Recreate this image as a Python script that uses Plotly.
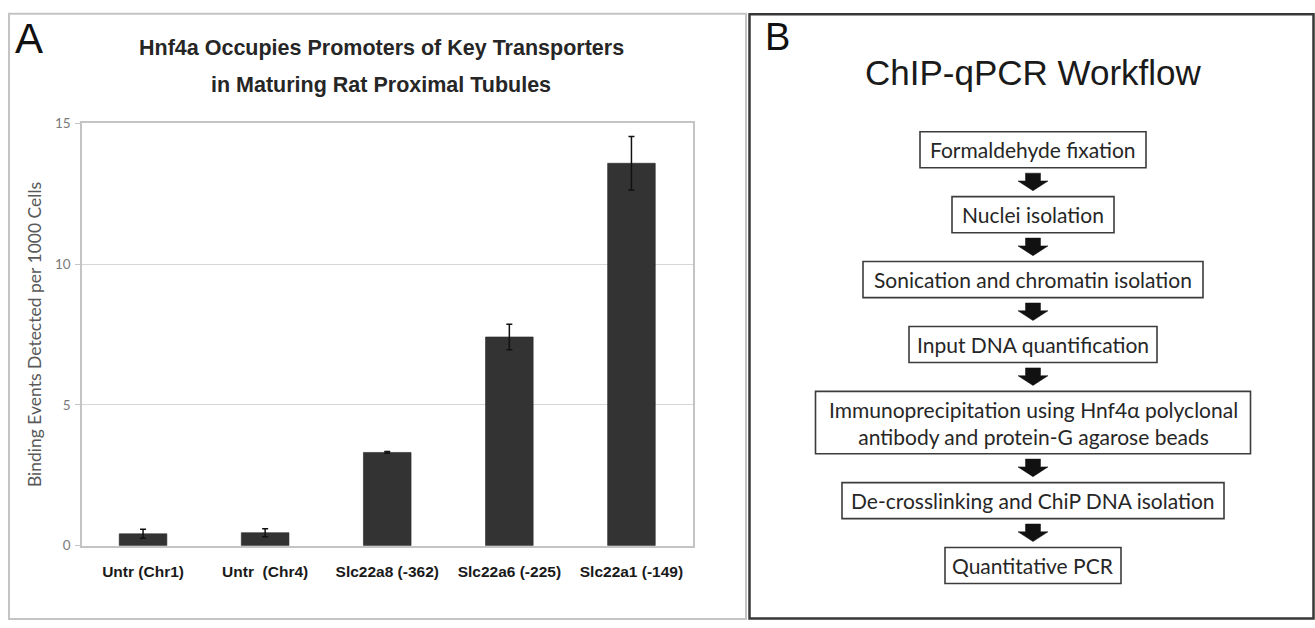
import plotly.graph_objects as go

W, H = 1315, 628

# ---- Panel A data -------------------------------------------------------
categories = [
    "Untr (Chr1)",
    "Untr\u00a0 (Chr4)",
    "Slc22a8 (-362)",
    "Slc22a6 (-225)",
    "Slc22a1 (-149)",
]
binding_events = [0.42, 0.46, 3.31, 7.41, 13.58]
binding_err = [0.16, 0.14, 0.03, 0.45, 0.95]
y_ticks = [0, 5, 10, 15]

chart_title = [
    "Hnf4a Occupies Promoters of Key Transporters",
    "in Maturing Rat Proximal Tubules",
]
y_title = "Binding Events Detected per 1000 Cells"

# ---- Panel B content ----------------------------------------------------
workflow_title = "ChIP-qPCR Workflow"
workflow_steps = [
    "Formaldehyde fixation",
    "Nuclei isolation",
    "Sonication and chromatin isolation",
    "Input DNA quantification",
    "Immunoprecipitation using Hnf4\u03b1 polyclonal<br>antibody and protein-G agarose beads",
    "De-crosslinking and ChiP DNA isolation",
    "Quantitative PCR",
]

# ---- Flowchart geometry (pixels) ---------------------------------------
flow_cx = 1033
box_half_w = [113, 81, 170, 124, 217.5, 191, 88]
box_h = [37, 37, 37, 37, 64, 37, 37]
first_top = 127
box_gap = 29.6

ARIAL = "Liberation Sans"
BODY = "Lato"


def px(x):
    return x / W


def py(y):
    return 1 - y / H


fig = go.Figure(
    go.Bar(
        x=categories,
        y=binding_events,
        width=0.39,
        marker=dict(color="#333333", line=dict(color="#262626", width=0.6)),
        error_y=dict(type="data", array=binding_err, color="#111111",
                     thickness=1.5, width=3),
        hoverinfo="x+y",
    )
)

shapes = []
annotations = []

# panel frames
shapes.append(dict(type="rect", xref="paper", yref="paper",
                   x0=px(9), x1=px(746), y0=py(6), y1=py(627),
                   line=dict(color="#c4c4c4", width=2)))
shapes.append(dict(type="rect", xref="paper", yref="paper",
                   x0=px(749.5), x1=px(1313.5), y0=py(6.5), y1=py(626.5),
                   line=dict(color="#383838", width=2.5)))

# panel letters
annotations.append(dict(text="A", x=px(13), y=py(31), xref="paper", yref="paper",
                        xanchor="left", yanchor="middle", showarrow=False,
                        font=dict(family=ARIAL, size=42, color="#111111")))
annotations.append(dict(text="B", x=px(763), y=py(30), xref="paper", yref="paper",
                        xanchor="left", yanchor="middle", showarrow=False,
                        font=dict(family=ARIAL, size=38, color="#111111")))

# panel A title
for line, yc in zip(chart_title, [41, 79]):
    annotations.append(dict(text=line, x=px(381), y=py(yc), xref="paper", yref="paper",
                            xanchor="center", yanchor="middle", showarrow=False,
                            font=dict(family=ARIAL, size=21.5, color="#262626",
                                      weight="bold")))

# panel B title
annotations.append(dict(text=workflow_title, x=px(flow_cx), y=py(66), xref="paper",
                        yref="paper", xanchor="center", yanchor="middle",
                        showarrow=False,
                        font=dict(family=ARIAL, size=35, color="#1a1a1a")))

# workflow boxes and arrows
top = first_top
for i, (step, hw, h) in enumerate(zip(workflow_steps, box_half_w, box_h)):
    bottom = top + h
    shapes.append(dict(type="rect", xref="paper", yref="paper",
                       x0=px(flow_cx - hw), x1=px(flow_cx + hw),
                       y0=py(top), y1=py(bottom),
                       line=dict(color="#3c3c3c", width=1.6)))
    annotations.append(dict(text=step, x=px(flow_cx), y=py((top + bottom) / 2),
                            xref="paper", yref="paper", xanchor="center",
                            yanchor="middle", showarrow=False,
                            font=dict(family=BODY, size=21, color="#262626")))
    if i < len(workflow_steps) - 1:
        t = bottom + 5.5
        pts = [(-7.5, 0), (7.5, 0), (7.5, 8), (15, 8), (0, 18), (-15, 8), (-7.5, 8)]
        path = "M " + " L ".join(f"{px(flow_cx + dx):.5f},{py(t + dy):.5f}"
                                 for dx, dy in pts) + " Z"
        shapes.append(dict(type="path", xref="paper", yref="paper", path=path,
                           fillcolor="#111111", line=dict(color="#111111", width=0.5)))
    top = bottom + box_gap

fig.update_layout(
    width=W,
    height=H,
    margin=dict(l=0, r=0, t=0, b=0),
    paper_bgcolor="white",
    plot_bgcolor="white",
    showlegend=False,
    bargap=0.6,
    shapes=shapes,
    annotations=annotations,
    xaxis=dict(
        domain=[px(82), px(692.5)],
        showline=True, linecolor="#c4c4c4", linewidth=1.5, mirror=True,
        ticks="", showgrid=False,
        tickfont=dict(family=ARIAL, size=15.5, color="#1a1a1a", weight="bold"),
        ticklabelstandoff=11,
    ),
    yaxis=dict(
        domain=[py(551.7), py(118.3)],
        range=[0, 15],
        tickvals=y_ticks,
        showgrid=True, gridcolor="#d6d6d6", gridwidth=1.2,
        zeroline=False,
        showline=True, linecolor="#c4c4c4", linewidth=1.5, mirror=True,
        ticks="outside", ticklen=5, tickcolor="#c4c4c4",
        tickfont=dict(family=BODY, size=13.5, color="#7a7a7a"),
        ticklabelstandoff=2,
        title=dict(text=y_title, standoff=9,
                   font=dict(family=BODY, size=17.5, color="#595959")),
    ),
)

fig.write_html("out.html")
